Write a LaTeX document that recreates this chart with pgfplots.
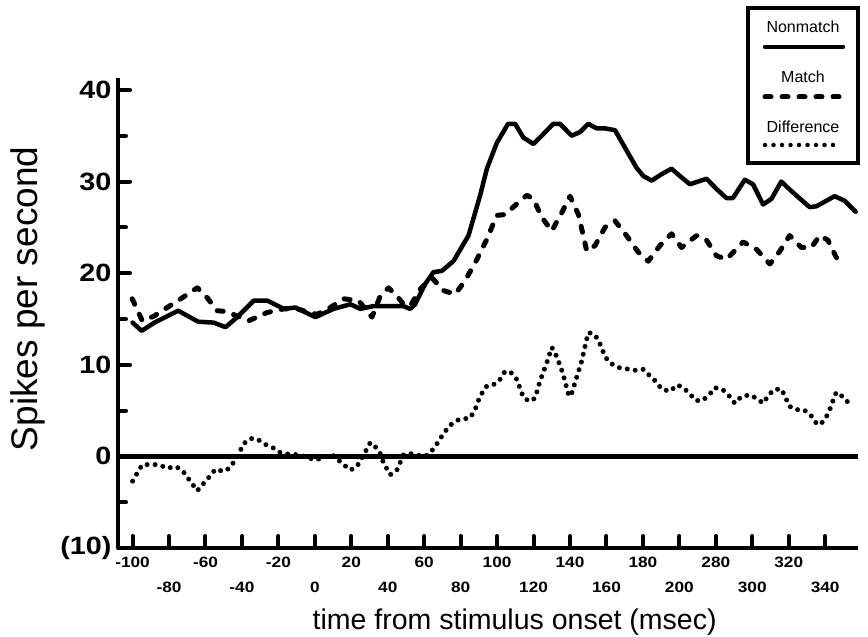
\documentclass[border=0pt]{standalone}
\usepackage{fontspec}
\setmainfont{Liberation Sans}
\newfontfamily\tickfont{Liberation Sans}[FakeStretch=1.15]
\usepackage{pgfplots}
\pgfplotsset{compat=1.18}

\begin{document}
\begin{tikzpicture}
\path[use as bounding box] (0,0) rectangle (868pt,637pt);
\begin{axis}[
  at={(118pt,89pt)}, anchor=south west,
  scale only axis, width=740pt, height=470pt,
  xmin=-108, xmax=298, ymin=-10, ymax=41.3,
  axis x line*=bottom, axis y line*=left,
  axis line style={line width=4.5pt},
  tick align=inside,
  tick style={line width=4pt, line cap=round, black},
  major tick length=12pt, minor tick length=8pt,
  ytick={-10,0,10,20,30,40},
  yticklabels={(10),0,10,20,30,40},
  minor y tick num=1,
  xtick={-100,-60,-20,20,60,100,140,180,220,260},
  xticklabels={-100,-60,-20,20,60,100,140,180,280,320},
  extra x ticks={-80,-40,0,40,80,120,160,200,240,280},
  extra x tick labels={-80,-40,0,40,80,120,160,200,300,340},
  extra x tick style={xticklabel style={yshift=-25pt}},
  yticklabel style={font=\tickfont\bfseries\fontsize{25}{25}\selectfont, xshift=-3pt},
  xticklabel style={font=\tickfont\bfseries\fontsize{15}{15}\selectfont, yshift=-5pt},
  xlabel={time from stimulus onset (msec)},
  xlabel style={font=\fontsize{28.5}{28.5}\selectfont, at={(axis description cs:0.536,-0.157)}, anchor=center},
  ylabel={Spikes per second},
  ylabel style={font=\fontsize{37}{37}\selectfont, at={(axis description cs:-0.1216,0.53)}, anchor=center},
  clip=false,
]
% zero line
\addplot[line width=4.5pt, forget plot] coordinates {(-108,0) (298,0)};
% Nonmatch
\addplot[line width=4.5pt, line join=round, line cap=round] coordinates {
(-100,14.6) (-95,13.7) (-88,14.6) (-75,15.9) (-64,14.7) (-55.5,14.6)
(-49,14.1) (-42.6,15.2) (-33.5,17.0) (-26,17.0) (-17,16.1) (-10.7,16.25)
(0.3,15.2) (10.3,16.1) (19.5,16.6) (25,16.1) (32,16.4) (39.5,16.4)
(48.6,16.4) (52.3,16.1) (55,16.6) (60.5,18.8) (65,20.1) (69.7,20.25)
(76,21.3) (84.3,24.1) (90.7,28.5) (94.4,31.4) (99.8,34.2) (106,36.3)
(109.9,36.3) (114.4,34.8) (119.9,34.1) (124.5,35.0) (130.8,36.3) (134.5,36.3)
(140.9,35.0) (145.5,35.4) (150,36.3) (154.6,35.8) (159.2,35.8) (164.7,35.6)
(171,33.4) (176.5,31.5) (180.2,30.6) (184.8,30.1) (190.2,30.8) (195.7,31.4)
(200.3,30.6) (205.8,29.7) (214.9,30.3) (220.3,29.2) (225.8,28.2) (229.4,28.2)
(235.9,30.2) (240.4,29.7) (245.9,27.5) (250.5,28.1) (255.9,30.0) (262.3,28.8)
(271.5,27.2) (275.2,27.3) (285.2,28.4) (290.7,27.9) (296.7,26.7)};
% Match
\addplot[line width=5pt, line join=round, line cap=round, dash pattern=on 6pt off 11pt] coordinates {
(-100.2,17.2) (-94.7,14.8) (-88.3,15.3) (-81,16.25) (-72.8,17.3) (-64.5,18.4)
(-59,17.3) (-53.6,15.9) (-48.1,15.8) (-42.6,15.3) (-36.3,14.8) (-26.2,15.7)
(-17.1,16.1) (-9.8,16.1) (1.2,15.5) (8.5,16.25) (15.8,17.2) (24,17.0)
(31.3,15.2) (35.9,17.5) (40.4,18.4) (45,17.5) (48.7,16.6) (52.3,16.4)
(57.8,18.25) (64.2,19.5) (70.6,18.1) (77,17.7) (82.5,19.2) (88.9,21.5)
(94.4,23.7) (99.8,26.3) (104.4,26.4) (109.9,27.4) (116.3,28.5) (119.9,28.1)
(124.5,26.1) (130,24.6) (135.5,26.6) (140,28.4) (144.6,26.4) (149.2,22.4)
(153.7,23.0) (159.2,25.0) (164.7,25.7) (171,24.1) (177.4,22.3) (182.9,21.3)
(189.3,23.0) (195.7,24.3) (201.2,22.8) (209.4,24.1) (214.9,23.6) (220.3,21.9)
(225.8,21.5) (235,23.4) (242.3,22.6) (249.6,21.0) (255.1,22.4) (260.5,24.1)
(266.9,22.8) (272.4,22.8) (277,24.1) (281.5,23.6) (286.1,21.7) (291.6,21.5)};
% Difference
\addplot[line width=5pt, line join=round, line cap=round, dash pattern=on 0pt off 8pt] coordinates {
(-100,-2.7) (-94.7,-0.9) (-85.6,-0.9) (-81,-1.3) (-76.4,-1.1) (-72.8,-1.5)
(-64.5,-3.75) (-58.2,-2.3) (-54.5,-1.4) (-50,-1.65) (-46.3,-1.2) (-41.7,0.3)
(-39,1.4) (-35.3,1.95) (-31.7,1.9) (-27.1,1.3) (-22.6,0.9) (-18.9,0.4)
(-13.4,0.2) (-8.9,0.2) (0.3,-0.4) (9.4,0.2) (15.8,-0.9) (19.5,-1.5)
(23.1,-1.1) (27.7,0.5) (30.4,1.5) (33.2,1.05) (35.9,0.3) (37.7,-0.75)
(41.4,-2.0) (45,-1.5) (48.7,0.2) (52.3,0.3) (55.1,0.2) (59.6,0)
(62.4,0.2) (66,1.05) (70.6,2.5) (74.2,3.4) (78.8,4.0) (85.2,4.2)
(87.9,5.1) (90.7,6.6) (94.4,7.7) (98.9,7.9) (101.6,8.4) (104.4,9.3)
(108,9.1) (110.8,8.4) (114.4,6.45) (117.7,6.0) (120.8,6.35) (123.6,8.25)
(127.2,10.2) (130,11.9) (132.7,10.9) (136,9.1) (139.1,6.8) (140.4,6.55)
(143.6,8.6) (146.4,10.4) (148.8,12.5) (150,13.5) (152.8,13.4) (155.5,12.75)
(159.2,10.9) (161.9,10.2) (166.5,9.7) (175.6,9.4) (180.2,9.5) (183.8,8.8)
(187.5,8.1) (190.2,7.35) (194.8,7.1) (198.8,7.8) (202.1,7.5) (205.8,6.8)
(209,6.1) (212.7,6.1) (216.3,6.7) (219.5,7.5) (223.7,7.3) (227.3,6.6)
(230.4,5.8) (234.1,6.55) (238.6,6.7) (242.3,6.35) (245.9,5.8) (248.7,6.6)
(251.8,7.3) (256,7.35) (258.4,6.35) (260.2,5.5) (263.8,5.1) (268.2,5.1)
(271.9,4.55) (274.8,3.7) (277.3,3.45) (280.6,4.3) (282.5,5.1) (284.3,6.1)
(286.1,7.0) (290.1,6.45) (293.4,5.7)};
\end{axis}
% legend
\draw[line width=4.5pt, fill=white] (748pt,474pt) rectangle (858pt,629pt);
\begin{scope}[every node/.style={font=\fontsize{16}{16}\selectfont}]
\node at (803pt,610pt) {Nonmatch};
\node at (803pt,560pt) {Match};
\node at (803pt,510pt) {Difference};
\end{scope}
\draw[line width=4.5pt, line cap=round] (765pt,590pt) -- (843pt,590pt);
\draw[line width=5pt, line cap=round, dash pattern=on 6pt off 11pt] (765pt,540pt) -- (845pt,540pt);
\draw[line width=4.5pt, line cap=round, dash pattern=on 0pt off 8.5pt] (765pt,492pt) -- (840pt,492pt);
\end{tikzpicture}
\end{document}
